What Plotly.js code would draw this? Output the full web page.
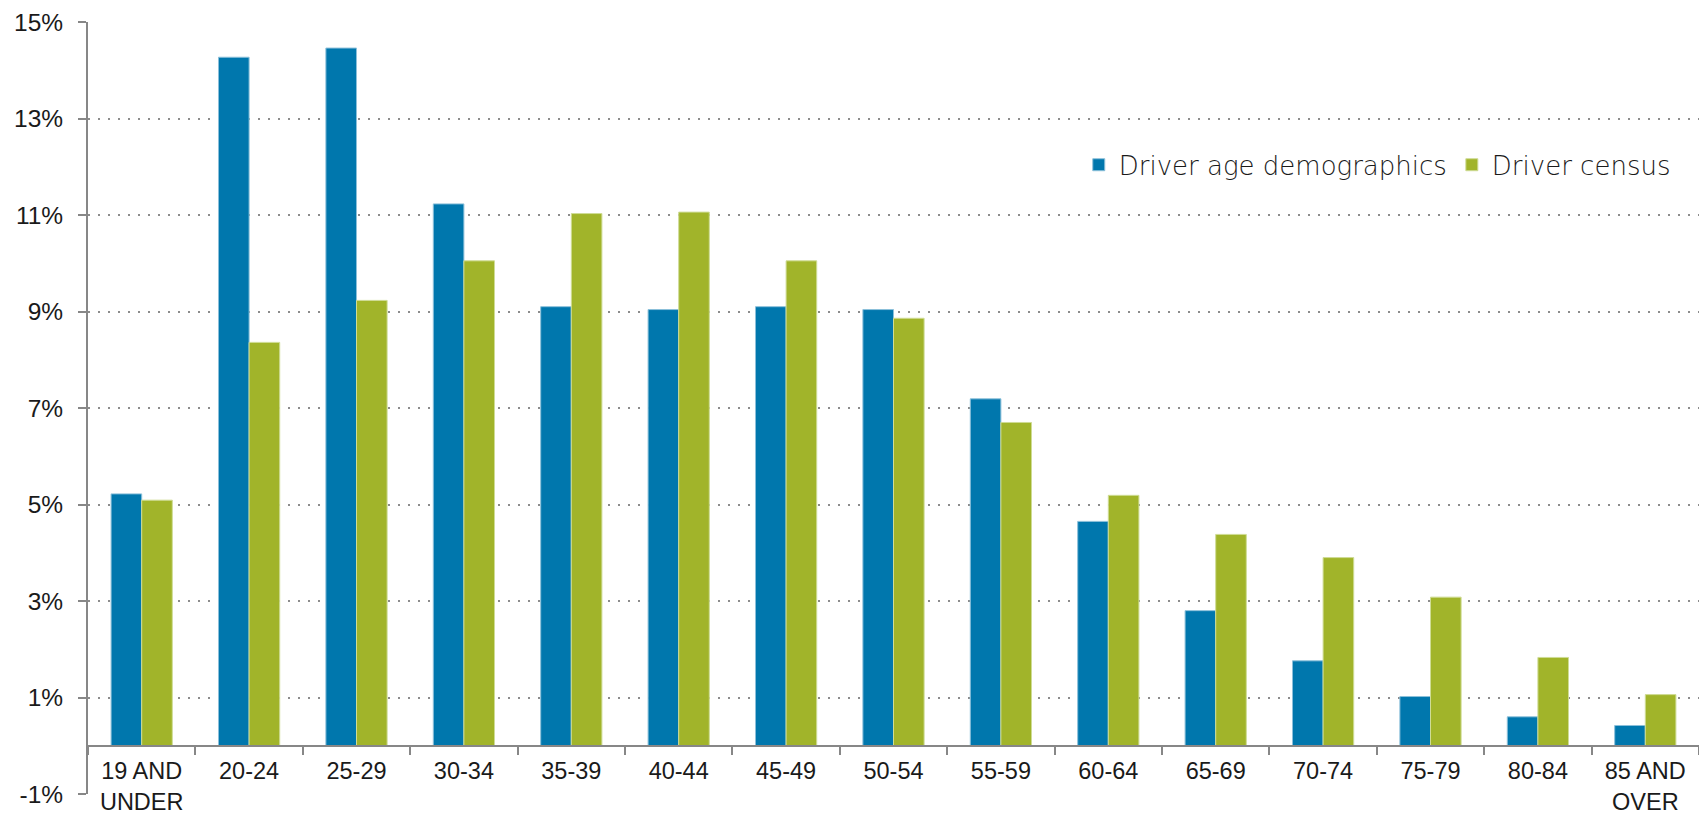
<!DOCTYPE html>
<html>
<head>
<meta charset="utf-8">
<script src="https://cdn.plot.ly/plotly-3.0.1.min.js"></script>
<style>
  html, body { margin: 0; padding: 0; background: #ffffff; }
  #chart { width: 1699px; height: 815px; }
</style>
</head>
<body>
<div id="chart"></div>
<script>
const categories = ["19 AND<br>UNDER", "20-24", "25-29", "30-34", "35-39", "40-44", "45-49", "50-54", "55-59", "60-64", "65-69", "70-74", "75-79", "80-84", "85 AND<br>OVER"];
const driverAgeDemographics = [5.22, 14.27, 14.46, 11.23, 9.10, 9.04, 9.10, 9.04, 7.19, 4.65, 2.80, 1.76, 1.02, 0.60, 0.42];
const driverCensus = [5.09, 8.36, 9.23, 10.05, 11.03, 11.06, 10.05, 8.86, 6.70, 5.19, 4.38, 3.90, 3.08, 1.83, 1.06];
const yTickValues = [-1, 1, 3, 5, 7, 9, 11, 13, 15];
const seriesNames = ["Driver age demographics", "Driver census"];

const axisGray = "#878787";
const textColor = "#1a1a1a";

const traces = [
  {
    type: "bar",
    name: seriesNames[0],
    x: categories,
    y: driverAgeDemographics,
    marker: { color: "#0077ad", line: { color: "#8cc0da", width: 1 } },
    hoverinfo: "skip"
  },
  {
    type: "bar",
    name: seriesNames[1],
    x: categories,
    y: driverCensus,
    marker: { color: "#a1b42a", line: { color: "#cfdc95", width: 1 } },
    hoverinfo: "skip"
  }
];

const layout = {
  width: 1699,
  height: 815,
  margin: { l: 88, r: 0, t: 21.5, b: 20.7, pad: 0 },
  paper_bgcolor: "#ffffff",
  plot_bgcolor: "#ffffff",
  barmode: "group",
  bargap: 0.43,
  bargroupgap: 0,
  showlegend: true,
  legend: {
    orientation: "h",
    x: 0.615,
    xanchor: "left",
    y: 0.815,
    yanchor: "middle",
    font: { family: "DejaVu Sans, sans-serif", size: 26, color: textColor, weight: 200 },
    bgcolor: "rgba(0,0,0,0)",
    itemwidth: 30,
    tracegroupgap: 0
  },
  xaxis: {
    type: "category",
    anchor: "free",
    position: 0.0625,
    showline: true,
    linecolor: axisGray,
    linewidth: 2,
    ticks: "outside",
    tickson: "boundaries",
    ticklen: 8,
    tickwidth: 2,
    tickcolor: axisGray,
    showgrid: false,
    zeroline: false,
    tickfont: { family: "Liberation Sans, Arial, sans-serif", size: 23.5, color: textColor },
    ticklabelstandoff: 4,
    fixedrange: true
  },
  yaxis: {
    range: [-1, 15],
    tickmode: "array",
    tickvals: yTickValues,
    ticktext: yTickValues.map(v => v + "%"),
    showline: true,
    linecolor: axisGray,
    linewidth: 2,
    ticks: "outside",
    ticklen: 8,
    tickwidth: 2,
    tickcolor: axisGray,
    showgrid: true,
    gridcolor: "#8c8c8c",
    gridwidth: 2,
    griddash: "2px,8px",
    zeroline: false,
    tickfont: { family: "Liberation Sans, Arial, sans-serif", size: 24.5, color: textColor },
    ticklabelstandoff: 10,
    fixedrange: true
  },
  hovermode: false
};

Plotly.newPlot("chart", traces, layout, { displayModeBar: false, staticPlot: true });
</script>
</body>
</html>
